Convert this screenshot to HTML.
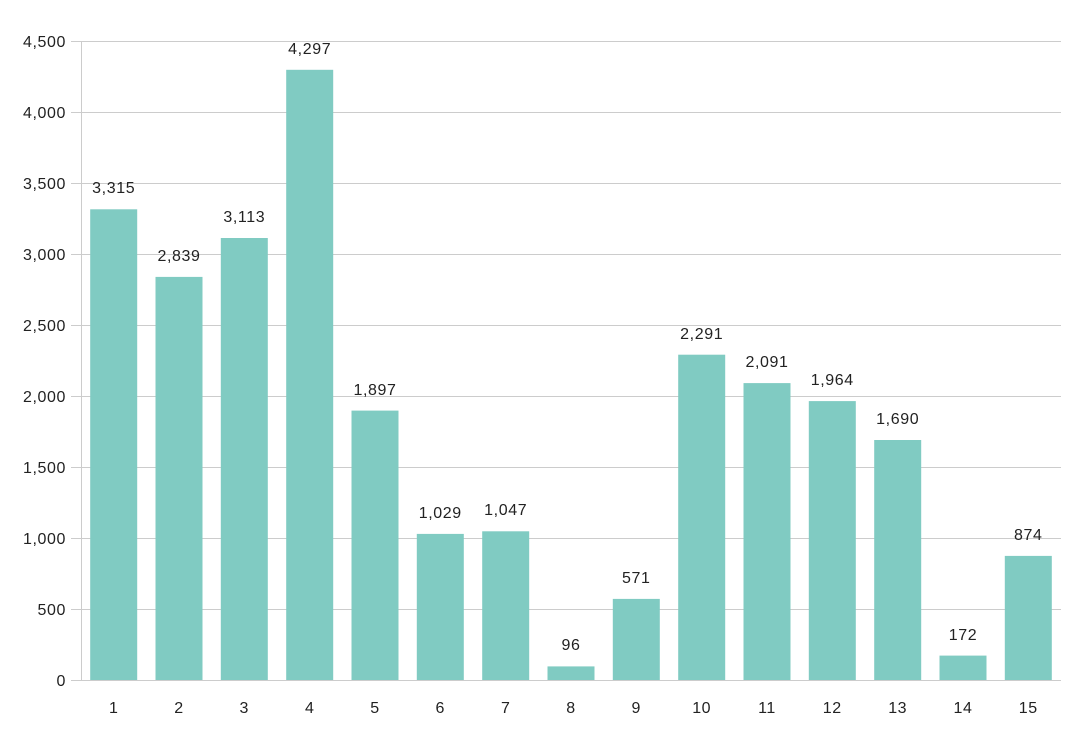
<!DOCTYPE html>
<html><head><meta charset="utf-8"><style>html,body{margin:0;padding:0;background:#fff}svg{display:block}text{font-family:"Liberation Sans",sans-serif;fill:#222;font-size:16px;letter-spacing:0.6px}</style></head><body>
<svg width="1080" height="731" viewBox="0 0 1080 731">
<g stroke="#cccccc" stroke-width="1">
<line x1="71" x2="1061" y1="680.5" y2="680.5"/>
<line x1="71" x2="1061" y1="609.5" y2="609.5"/>
<line x1="71" x2="1061" y1="538.5" y2="538.5"/>
<line x1="71" x2="1061" y1="467.5" y2="467.5"/>
<line x1="71" x2="1061" y1="396.5" y2="396.5"/>
<line x1="71" x2="1061" y1="325.5" y2="325.5"/>
<line x1="71" x2="1061" y1="254.5" y2="254.5"/>
<line x1="71" x2="1061" y1="183.5" y2="183.5"/>
<line x1="71" x2="1061" y1="112.5" y2="112.5"/>
<line x1="71" x2="1061" y1="41.5" y2="41.5"/>
<line x1="81.5" x2="81.5" y1="41" y2="681"/>
</g>
<g text-anchor="end">
<text x="66" y="686">0</text><text x="66" y="615">500</text><text x="66" y="544">1,000</text><text x="66" y="473">1,500</text><text x="66" y="402">2,000</text><text x="66" y="331">2,500</text><text x="66" y="260">3,000</text><text x="66" y="189">3,500</text><text x="66" y="118">4,000</text><text x="66" y="47">4,500</text>
</g>
<g fill="#80cbc2">
<rect x="90.2" y="209.3" width="47" height="470.7"/>
<rect x="155.5" y="276.9" width="47" height="403.1"/>
<rect x="220.8" y="238" width="47" height="442"/>
<rect x="286.2" y="69.8" width="47" height="610.2"/>
<rect x="351.5" y="410.6" width="47" height="269.4"/>
<rect x="416.8" y="533.9" width="47" height="146.1"/>
<rect x="482.2" y="531.3" width="47" height="148.7"/>
<rect x="547.5" y="666.4" width="47" height="13.6"/>
<rect x="612.8" y="598.9" width="47" height="81.1"/>
<rect x="678.2" y="354.7" width="47" height="325.3"/>
<rect x="743.5" y="383.1" width="47" height="296.9"/>
<rect x="808.8" y="401.1" width="47" height="278.9"/>
<rect x="874.2" y="440" width="47" height="240"/>
<rect x="939.5" y="655.6" width="47" height="24.4"/>
<rect x="1004.8" y="555.9" width="47" height="124.1"/>
</g>
<g text-anchor="middle">
<text x="113.7" y="193">3,315</text><text x="179" y="261">2,839</text><text x="244.3" y="222">3,113</text><text x="309.7" y="54">4,297</text><text x="375" y="395">1,897</text><text x="440.3" y="518">1,029</text><text x="505.7" y="515">1,047</text><text x="571" y="650">96</text><text x="636.3" y="583">571</text><text x="701.7" y="339">2,291</text><text x="767" y="367">2,091</text><text x="832.3" y="385">1,964</text><text x="897.7" y="424">1,690</text><text x="963" y="640">172</text><text x="1028.3" y="540">874</text>
<text x="113.7" y="713">1</text><text x="179" y="713">2</text><text x="244.3" y="713">3</text><text x="309.7" y="713">4</text><text x="375" y="713">5</text><text x="440.3" y="713">6</text><text x="505.7" y="713">7</text><text x="571" y="713">8</text><text x="636.3" y="713">9</text><text x="701.7" y="713">10</text><text x="767" y="713">11</text><text x="832.3" y="713">12</text><text x="897.7" y="713">13</text><text x="963" y="713">14</text><text x="1028.3" y="713">15</text>
</g>
</svg>
</body></html>
